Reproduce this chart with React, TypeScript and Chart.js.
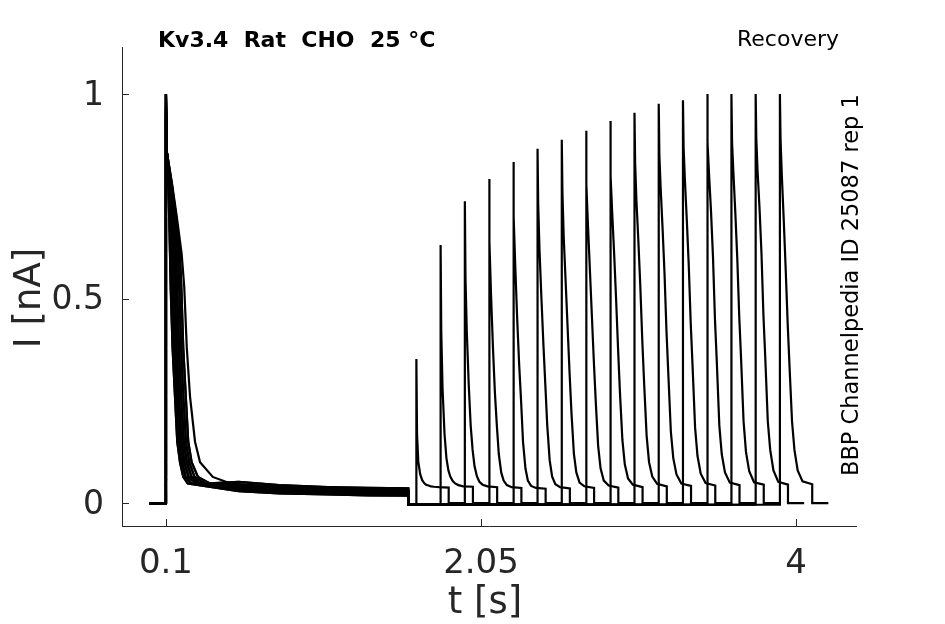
import { useEffect, useRef } from 'react';
import { Chart, registerables } from 'chart.js';

Chart.register(...registerables);

// axes
const xTicks = [0.1, 2.05, 4];
const xTickLabels = ['0.1', '2.05', '4'];
const yTicks = [0, 0.5, 1];
const yTickLabels = ['0', '0.5', '1'];
const xMin = -0.172;
const xMax = 4.371;
const yMin = -0.056;
const yMax = 1.115;

// protocol timing [s]
const holdStart = -0.005;
const pulseOn = 0.1;
const pulseOff = 1.6;
const testLength = 0.2;
const sweepEnd = 0.1;
const gapLevel = -0.004;
const restLevel = 0;
const testStarts = [1.65, 1.8, 1.95, 2.1, 2.25, 2.4, 2.55, 2.7, 2.85, 3.0, 3.15, 3.3, 3.45, 3.6, 3.75, 3.9];

// conditioning pulse, one entry per sweep
const firstPeaks = [1.0, 0.94, 1.0, 0.97, 1.0, 0.96, 1.0, 0.95, 1.0, 0.98, 1.0, 0.96, 1.0, 0.97, 1.0, 0.94];
const firstShapeOfSweep = ['S', 'F', 'E', 'D', 'C', 'B', 'A', 'A', 'B', 'C', 'D', 'E', 'F', 'C', 'B', 'D'];

// decay of the conditioning current: time at which each level is crossed
const firstLevels = [0.86, 0.78, 0.7, 0.61, 0.53, 0.38, 0.26, 0.15, 0.1, 0.064, 0.048];
const firstTimesA = [0.104, 0.114, 0.12, 0.125, 0.129, 0.141, 0.156, 0.17, 0.187, 0.207, 0.235];
const firstTimesB = [0.104, 0.118, 0.128, 0.136, 0.141, 0.153, 0.168, 0.183, 0.2, 0.222, 0.26];
const firstTimesC = [0.104, 0.122, 0.136, 0.148, 0.155, 0.166, 0.18, 0.196, 0.214, 0.24, 0.29];
const firstTimesD = [0.105, 0.127, 0.145, 0.161, 0.168, 0.18, 0.194, 0.21, 0.229, 0.258, 0.31];
const firstTimesE = [0.105, 0.131, 0.154, 0.174, 0.182, 0.194, 0.208, 0.224, 0.244, 0.277, 0.34];
const firstTimesF = [0.105, 0.136, 0.163, 0.186, 0.195, 0.207, 0.223, 0.238, 0.259, 0.298, 0.372];
const firstTimesS = [0.105, 0.138, 0.167, 0.197, 0.213, 0.229, 0.249, 0.28, 0.311, 0.39, 0.5];

// slow residual current until the end of the conditioning pulse
const tailTimes = [0.55, 0.8, 1.1, 1.35, 1.6];
const tailA = [0.029, 0.024, 0.021, 0.019, 0.018];
const tailB = [0.033, 0.028, 0.025, 0.023, 0.022];
const tailC = [0.037, 0.032, 0.028, 0.026, 0.025];
const tailD = [0.041, 0.035, 0.031, 0.029, 0.028];
const tailE = [0.046, 0.039, 0.035, 0.033, 0.032];
const tailF = [0.052, 0.044, 0.039, 0.037, 0.036];
const tailS = [0.045, 0.04, 0.036, 0.034, 0.033];

// test pulse: current at each offset after the test onset
const testOffsets = [0, 0.004, 0.012, 0.024, 0.036, 0.048, 0.06, 0.075, 0.09, 0.11, 0.14, 0.2];
const test01 = [0.352, 0.17, 0.1, 0.07, 0.056, 0.049, 0.045, 0.043, 0.041, 0.04, 0.039, 0.038];
const test02 = [0.631, 0.42, 0.28, 0.17, 0.11, 0.08, 0.065, 0.054, 0.048, 0.044, 0.041, 0.04];
const test03 = [0.738, 0.55, 0.42, 0.29, 0.19, 0.13, 0.09, 0.065, 0.052, 0.045, 0.041, 0.039];
const test04 = [0.792, 0.64, 0.51, 0.38, 0.27, 0.19, 0.12, 0.075, 0.055, 0.044, 0.039, 0.037];
const test05 = [0.834, 0.7, 0.58, 0.45, 0.34, 0.25, 0.15, 0.085, 0.055, 0.042, 0.037, 0.035];
const test06 = [0.866, 0.73, 0.62, 0.5, 0.39, 0.29, 0.19, 0.105, 0.065, 0.046, 0.039, 0.036];
const test07 = [0.888, 0.76, 0.65, 0.54, 0.43, 0.32, 0.22, 0.12, 0.075, 0.05, 0.041, 0.037];
const test08 = [0.91, 0.78, 0.68, 0.57, 0.46, 0.35, 0.25, 0.14, 0.085, 0.055, 0.043, 0.038];
const test09 = [0.934, 0.8, 0.71, 0.61, 0.5, 0.38, 0.27, 0.155, 0.095, 0.06, 0.045, 0.039];
const test10 = [0.954, 0.83, 0.74, 0.64, 0.53, 0.4, 0.29, 0.165, 0.1, 0.065, 0.047, 0.041];
const test11 = [0.976, 0.85, 0.77, 0.67, 0.56, 0.42, 0.31, 0.175, 0.11, 0.07, 0.048, 0.042];
const test12 = [0.985, 0.87, 0.79, 0.69, 0.58, 0.44, 0.33, 0.185, 0.115, 0.072, 0.049, 0.043];
const test13 = [1.0, 0.88, 0.8, 0.71, 0.6, 0.45, 0.34, 0.19, 0.12, 0.075, 0.05, 0.044];
const test14 = [1.0, 0.88, 0.81, 0.71, 0.6, 0.46, 0.35, 0.2, 0.125, 0.078, 0.051, 0.045];
const test15 = [1.0, 0.89, 0.81, 0.72, 0.61, 0.46, 0.35, 0.2, 0.13, 0.08, 0.052, 0.045];
const test16 = [1.0, 0.89, 0.8, 0.69, 0.57, 0.44, 0.33, 0.2, 0.13, 0.08, 0.053, 0.046];

const testValues = [test01, test02, test03, test04, test05, test06, test07, test08,
    test09, test10, test11, test12, test13, test14, test15, test16];

const firstTimes: Record<string, number[]> = {
    A: firstTimesA, B: firstTimesB, C: firstTimesC, D: firstTimesD,
    E: firstTimesE, F: firstTimesF, S: firstTimesS
};
const tails: Record<string, number[]> = {
    A: tailA, B: tailB, C: tailC, D: tailD, E: tailE, F: tailF, S: tailS
};

const titleText = 'Kv3.4  Rat  CHO  25 °C';
const protocolText = 'Recovery';
const sourceText = 'BBP Channelpedia ID 25087 rep 1';
const axisColor = '#262626';

function sweepPoints(i: number) {
    const pts: { x: number; y: number }[] = [];
    const shape = firstShapeOfSweep[i];
    pts.push({ x: holdStart, y: restLevel });
    pts.push({ x: pulseOn, y: restLevel });
    pts.push({ x: pulseOn, y: firstPeaks[i] });
    firstTimes[shape].forEach((t, k) => pts.push({ x: t, y: firstLevels[k] }));
    tailTimes.forEach((t, k) => pts.push({ x: t, y: tails[shape][k] }));
    pts.push({ x: pulseOff, y: gapLevel });
    const ts = testStarts[i];
    pts.push({ x: ts, y: gapLevel });
    testOffsets.forEach((o, k) => pts.push({ x: ts + o, y: testValues[i][k] }));
    pts.push({ x: ts + testLength, y: restLevel });
    pts.push({ x: ts + testLength + sweepEnd, y: restLevel });
    return pts;
}

const decorations = {
    id: 'decorations',
    afterDraw(chart: Chart) {
        const { ctx, chartArea, scales } = chart;
        const xs = scales.x;
        const ys = scales.y;
        ctx.save();
        // inward ticks
        ctx.strokeStyle = axisColor;
        ctx.lineWidth = 1;
        ctx.beginPath();
        xTicks.forEach((v) => {
            const px = Math.round(xs.getPixelForValue(v)) + 0.5;
            ctx.moveTo(px, chartArea.bottom);
            ctx.lineTo(px, chartArea.bottom - 7);
        });
        yTicks.forEach((v) => {
            const py = Math.round(ys.getPixelForValue(v)) + 0.5;
            ctx.moveTo(chartArea.left, py);
            ctx.lineTo(chartArea.left + 7, py);
        });
        ctx.stroke();

        // axis titles
        ctx.fillStyle = axisColor;
        ctx.font = '37px "DejaVu Sans"';
        ctx.textAlign = 'center';
        ctx.textBaseline = 'middle';
        ctx.fillText('t [s]', 485, 603);
        ctx.save();
        ctx.translate(30, 298);
        ctx.rotate(-Math.PI / 2);
        ctx.fillText('I [nA]', 0, 0);
        ctx.restore();

        // header and source note
        ctx.fillStyle = '#000';
        ctx.textBaseline = 'alphabetic';
        ctx.font = 'bold 22px "DejaVu Sans"';
        ctx.textAlign = 'left';
        ctx.fillText(titleText, 158, 47);
        ctx.font = '22px "DejaVu Sans"';
        ctx.textAlign = 'right';
        ctx.fillText(protocolText, 839, 46);
        ctx.font = '22.5px "DejaVu Sans"';
        ctx.translate(858, 476);
        ctx.rotate(-Math.PI / 2);
        ctx.textAlign = 'left';
        ctx.fillText(sourceText, 0, 0);
        ctx.restore();
    }
};

export default function App() {
    const canvasRef = useRef<HTMLCanvasElement>(null);
    const chartRef = useRef<Chart | null>(null);

    useEffect(() => {
        if (!canvasRef.current) return;
        if (chartRef.current) chartRef.current.destroy();

        chartRef.current = new Chart(canvasRef.current, {
            type: 'scatter',
            data: {
                datasets: testStarts.map((_, i) => ({
                    data: sweepPoints(i),
                    showLine: true,
                    borderColor: '#000000',
                    borderWidth: 2.2,
                    pointRadius: 0,
                    pointHoverRadius: 0,
                    fill: false,
                    tension: 0
                }))
            },
            options: {
                animation: false,
                responsive: false,
                maintainAspectRatio: false,
                layout: { padding: { top: 47, right: 89, left: 0, bottom: 0 } },
                plugins: {
                    legend: { display: false },
                    tooltip: { enabled: false }
                },
                scales: {
                    x: {
                        type: 'linear',
                        min: xMin,
                        max: xMax,
                        afterBuildTicks: (scale) => {
                            scale.ticks = xTicks.map((v) => ({ value: v }));
                        },
                        afterFit: (scale) => {
                            scale.height = 98;
                        },
                        ticks: {
                            autoSkip: false,
                            maxRotation: 0,
                            padding: 18,
                            color: axisColor,
                            font: { family: 'DejaVu Sans', size: 34 },
                            callback: (v) => xTickLabels[xTicks.indexOf(Number(v))] ?? ''
                        },
                        grid: { drawOnChartArea: false, drawTicks: false },
                        border: { color: axisColor, width: 1 }
                    },
                    y: {
                        type: 'linear',
                        min: yMin,
                        max: yMax,
                        afterBuildTicks: (scale) => {
                            scale.ticks = yTicks.map((v) => ({ value: v }));
                        },
                        afterFit: (scale) => {
                            scale.width = 122;
                        },
                        ticks: {
                            autoSkip: false,
                            padding: 18,
                            labelOffset: 2,
                            color: axisColor,
                            font: { family: 'DejaVu Sans', size: 33 },
                            callback: (v) => yTickLabels[yTicks.indexOf(Number(v))] ?? ''
                        },
                        grid: { drawOnChartArea: false, drawTicks: false },
                        border: { color: axisColor, width: 1 }
                    }
                }
            },
            plugins: [decorations]
        });

        return () => {
            if (chartRef.current) {
                chartRef.current.destroy();
                chartRef.current = null;
            }
        };
    }, []);

    return (
        <div style={{ position: 'absolute', left: 0, top: 0, width: 945, height: 624, background: '#fff' }}>
            <canvas ref={canvasRef} width={945} height={624} style={{ width: '945px', height: '624px' }} />
        </div>
    );
}
